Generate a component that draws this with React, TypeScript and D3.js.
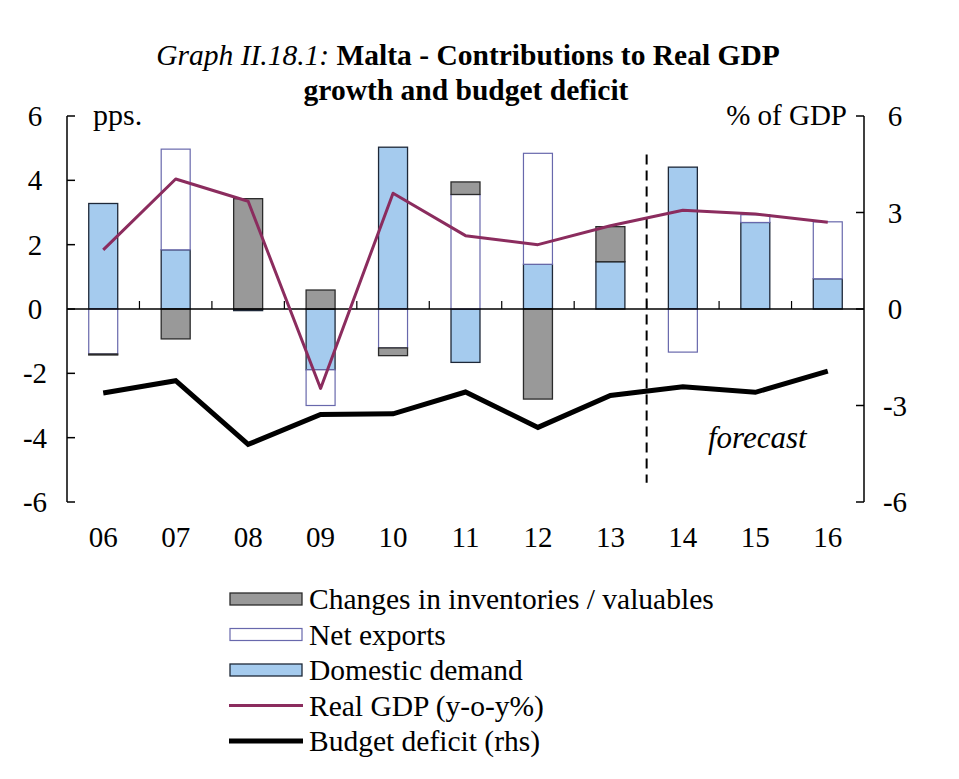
import * as d3 from 'd3';

// years on the x axis
const years = ['06', '07', '08', '09', '10', '11', '12', '13', '14', '15', '16'];
// contributions, pps.
const domesticDemand = [3.28, 1.84, -0.05, -1.89, 5.03, -1.66, 1.39, 1.47, 4.41, 2.69, 0.94];
const netExports = [-1.4, 3.13, 0, -1.11, -1.21, 3.56, 3.45, 0, -1.34, 0.24, 1.77];
const inventories = [-0.03, -0.93, 3.43, 0.59, -0.24, 0.39, -2.8, 1.09, 0, 0, 0];
// lines
const realGdp = [1.84, 4.04, 3.35, -2.47, 3.6, 2.28, 2.0, 2.59, 3.07, 2.95, 2.7];
const budgetDeficit = [-2.61, -2.23, -4.21, -3.28, -3.26, -2.58, -3.68, -2.69, -2.42, -2.59, -1.93];
// ticks
const leftTicks = [6, 4, 2, 0, -2, -4, -6];
const rightTicks = [6, 3, 0, -3, -6];
const forecastFrom = '14';

const W = 959;
const H = 779;
const FONT = '"Liberation Serif", "Times New Roman", serif';
const PLOT = { left: 67, right: 864, top: 116, bottom: 502 };

const SERIES = [
    { key: 'dd', label: 'Domestic demand', fill: '#a5cbee', stroke: '#1e2838', sw: 1.3 },
    { key: 'nx', label: 'Net exports', fill: '#ffffff', stroke: '#6868ac', sw: 1.2 },
    { key: 'inv', label: 'Changes in inventories / valuables', fill: '#999999', stroke: '#2b2b2b', sw: 1.3 },
];

export default function App() {
    const x = d3
        .scaleBand()
        .domain(years)
        .range([PLOT.left, PLOT.right])
        .paddingInner(0.6)
        .paddingOuter(0.3);
    const y = d3.scaleLinear().domain([-6, 6]).range([PLOT.bottom, PLOT.top]);
    const yR = d3.scaleLinear().domain([-6, 6]).range([PLOT.bottom, PLOT.top]);

    const rows = years.map((yr, i) => ({
        year: yr,
        dd: domesticDemand[i],
        nx: netExports[i],
        inv: inventories[i],
    }));
    const stacked = d3
        .stack<any>()
        .keys(SERIES.map((s) => s.key))
        .offset(d3.stackOffsetDiverging)(rows);

    const step = x.step();
    const bw = x.bandwidth();
    const cx = (yr: string) => (x(yr) ?? 0) + bw / 2;
    const y0 = y(0);

    const gdpLine = d3
        .line<number>()
        .x((_, i) => cx(years[i]))
        .y((d) => y(d))(realGdp);
    const budgetLine = d3
        .line<number>()
        .x((_, i) => cx(years[i]))
        .y((d) => yR(d))(budgetDeficit);

    const dashX = (x(forecastFrom) ?? 0) - (step - bw) / 2;
    const boundaries = d3.range(1, years.length).map((i) => PLOT.left + i * step);

    const legendRows = [
        { label: SERIES[2].label, kind: 'rect', s: SERIES[2] },
        { label: SERIES[1].label, kind: 'rect', s: SERIES[1] },
        { label: SERIES[0].label, kind: 'rect', s: SERIES[0] },
        { label: 'Real GDP (y-o-y%)', kind: 'line', color: '#8b2c5e', w: 3 },
        { label: 'Budget deficit (rhs)', kind: 'line', color: '#000', w: 5 },
    ];

    return (
        <svg
            width={W}
            height={H}
            style={{ position: 'absolute', left: 0, top: 0, background: '#fff' }}
            fontFamily={FONT}
        >
            {/* title */}
            <text x={468} y={65} textAnchor="middle" fontSize={29.5}>
                <tspan fontStyle="italic">Graph II.18.1: </tspan>
                <tspan fontWeight="bold">Malta - Contributions to Real GDP</tspan>
            </text>
            <text x={466} y={100} textAnchor="middle" fontSize={29.5} fontWeight="bold">
                growth and budget deficit
            </text>

            {/* bars */}
            {stacked.map((layer, li) => (
                <g key={layer.key}>
                    {layer.map((seg, i) => {
                        const top = y(Math.max(seg[0], seg[1]));
                        const h = Math.abs(y(seg[0]) - y(seg[1]));
                        if (h < 0.5) return null;
                        return (
                            <rect
                                key={i}
                                x={x(years[i])}
                                y={top}
                                width={bw}
                                height={h}
                                fill={SERIES[li].fill}
                                stroke={SERIES[li].stroke}
                                strokeWidth={SERIES[li].sw}
                            />
                        );
                    })}
                </g>
            ))}

            {/* zero line and category ticks */}
            <line x1={PLOT.left} x2={PLOT.right} y1={y0} y2={y0} stroke="#000" strokeWidth={1.5} />
            {boundaries.map((bx, i) => (
                <line key={i} x1={bx} x2={bx} y1={y0} y2={y0 - 8} stroke="#000" strokeWidth={1.2} />
            ))}

            {/* forecast divider */}
            <line
                x1={dashX}
                x2={dashX}
                y1={y(4.8)}
                y2={y(-5.4)}
                stroke="#000"
                strokeWidth={2}
                strokeDasharray="10,6"
            />
            <text
                x={cx('15') + 2}
                y={y(-4) + 10}
                textAnchor="middle"
                fontSize={31}
                fontStyle="italic"
            >
                forecast
            </text>

            {/* lines */}
            <path d={gdpLine ?? ''} fill="none" stroke="#8b2c5e" strokeWidth={3} strokeLinejoin="round" />
            <path d={budgetLine ?? ''} fill="none" stroke="#000" strokeWidth={5} strokeLinejoin="miter" />

            {/* left axis */}
            <line x1={PLOT.left} x2={PLOT.left} y1={PLOT.top} y2={PLOT.bottom} stroke="#000" strokeWidth={1.5} />
            {leftTicks.map((t) => (
                <g key={t}>
                    <line x1={PLOT.left} x2={PLOT.left + 8} y1={y(t)} y2={y(t)} stroke="#000" strokeWidth={1.5} />
                    <text x={35} y={y(t) + 10} textAnchor="middle" fontSize={29}>
                        {t}
                    </text>
                </g>
            ))}
            <text x={93} y={125} fontSize={30}>
                pps.
            </text>

            {/* right axis */}
            <line x1={PLOT.right} x2={PLOT.right} y1={PLOT.top} y2={PLOT.bottom} stroke="#000" strokeWidth={1.5} />
            {rightTicks.map((t) => (
                <g key={t}>
                    <line x1={PLOT.right - 8} x2={PLOT.right} y1={yR(t)} y2={yR(t)} stroke="#000" strokeWidth={1.5} />
                    <text x={895} y={yR(t) + 10} textAnchor="middle" fontSize={29}>
                        {t}
                    </text>
                </g>
            ))}
            <text x={847} y={125} textAnchor="end" fontSize={29}>
                % of GDP
            </text>

            {/* x labels */}
            {years.map((yr) => (
                <text key={yr} x={cx(yr)} y={547} textAnchor="middle" fontSize={29}>
                    {yr}
                </text>
            ))}

            {/* legend */}
            {legendRows.map((r, i) => {
                const ly = 599 + i * 35.5;
                return (
                    <g key={r.label}>
                        {r.kind === 'rect' ? (
                            <rect
                                x={230}
                                y={ly - 6}
                                width={72}
                                height={12}
                                fill={r.s!.fill}
                                stroke={r.s!.stroke}
                                strokeWidth={r.s!.sw}
                            />
                        ) : (
                            <line x1={229} x2={303} y1={ly} y2={ly} stroke={r.color} strokeWidth={r.w} />
                        )}
                        <text x={309} y={ly + 10} fontSize={29.5}>
                            {r.label}
                        </text>
                    </g>
                );
            })}
        </svg>
    );
}
